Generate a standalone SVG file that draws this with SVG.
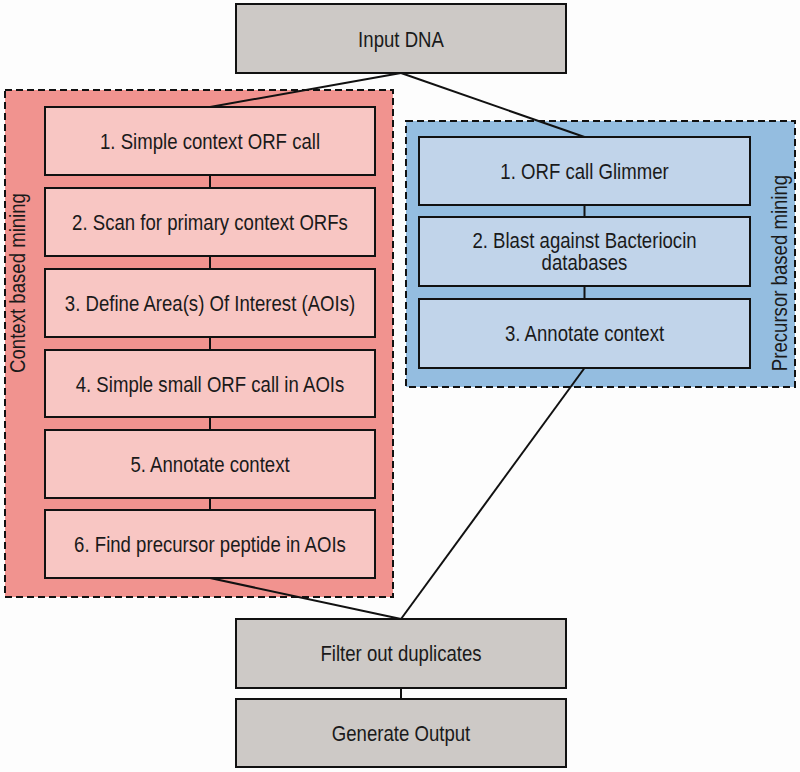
<svg xmlns="http://www.w3.org/2000/svg" width="800" height="772" viewBox="0 0 800 772">
<style>
text{font-family:"Liberation Sans",Arial,sans-serif;font-size:21.5px;fill:#1a1a1a;text-anchor:middle}
.box{stroke:#111;stroke-width:2}
.gray{fill:#cdc9c6}
.pink{fill:#f8c6c3}
.blue{fill:#c1d4ea}
.panel{stroke:#111;stroke-width:2;stroke-dasharray:7 4}
.ln{stroke:#111;stroke-width:2;fill:none}
</style>
<rect width="800" height="772" fill="#fdfdfd"/>
<g id="context-panel">
<rect class="panel" x="5" y="90" width="388" height="507" fill="#f1938f"/>
<text transform="translate(24.5,283) rotate(-90) scale(0.865,1)">Context based mining</text>
</g>
<g id="precursor-panel">
<rect class="panel" x="406" y="121" width="389" height="266" fill="#94bde0"/>
<text transform="translate(786.5,273) rotate(-90) scale(0.865,1)">Precursor based mining</text>
</g>
<g id="connectors">
<line class="ln" x1="401" y1="73" x2="210" y2="107"/>
<line class="ln" x1="401" y1="73" x2="584.5" y2="137"/>
<line class="ln" x1="210" y1="175" x2="210" y2="188"/>
<line class="ln" x1="210" y1="256" x2="210" y2="269"/>
<line class="ln" x1="210" y1="337" x2="210" y2="350"/>
<line class="ln" x1="210" y1="417" x2="210" y2="430"/>
<line class="ln" x1="210" y1="498" x2="210" y2="510"/>
<line class="ln" x1="584.5" y1="205" x2="584.5" y2="217"/>
<line class="ln" x1="584.5" y1="286" x2="584.5" y2="299"/>
<line class="ln" x1="210" y1="578" x2="401" y2="619"/>
<line class="ln" x1="584.5" y1="368" x2="401" y2="619"/>
<line class="ln" x1="401" y1="688" x2="401" y2="699"/>
</g>
<g id="input-dna">
<rect class="box gray" x="236" y="4" width="330" height="69"/>
<text transform="matrix(0.865 0 0 1 401 46.5)">Input DNA</text>
</g>
<g id="c1">
<rect class="box pink" x="45" y="107" width="330" height="68"/>
<text transform="matrix(0.865 0 0 1 210 149)">1. Simple context ORF call</text>
</g>
<g id="c2">
<rect class="box pink" x="45" y="188" width="330" height="68"/>
<text transform="matrix(0.865 0 0 1 210 230)">2. Scan for primary context ORFs</text>
</g>
<g id="c3">
<rect class="box pink" x="45" y="269" width="330" height="68"/>
<text transform="matrix(0.865 0 0 1 210 311)">3. Define Area(s) Of Interest (AOIs)</text>
</g>
<g id="c4">
<rect class="box pink" x="45" y="350" width="330" height="67"/>
<text transform="matrix(0.865 0 0 1 210 391.5)">4. Simple small ORF call in AOIs</text>
</g>
<g id="c5">
<rect class="box pink" x="45" y="430" width="330" height="68"/>
<text transform="matrix(0.865 0 0 1 210 472)">5. Annotate context</text>
</g>
<g id="c6">
<rect class="box pink" x="45" y="510" width="330" height="68"/>
<text transform="matrix(0.865 0 0 1 210 552)">6. Find precursor peptide in AOIs</text>
</g>
<g id="p1">
<rect class="box blue" x="419" y="137" width="331" height="68"/>
<text transform="matrix(0.865 0 0 1 584.5 179)">1. ORF call Glimmer</text>
</g>
<g id="p2">
<rect class="box blue" x="419" y="217" width="331" height="69"/>
<text transform="matrix(0.865 0 0 1 584.5 247.7)">2. Blast against Bacteriocin</text>
<text transform="matrix(0.865 0 0 1 584.5 270.4)">databases</text>
</g>
<g id="p3">
<rect class="box blue" x="419" y="299" width="331" height="69"/>
<text transform="matrix(0.865 0 0 1 584.5 341)">3. Annotate context</text>
</g>
<g id="filter">
<rect class="box gray" x="236" y="619" width="330" height="69"/>
<text transform="matrix(0.865 0 0 1 401 661)">Filter out duplicates</text>
</g>
<g id="output">
<rect class="box gray" x="236" y="699" width="330" height="68"/>
<text transform="matrix(0.865 0 0 1 401 741)">Generate Output</text>
</g>
</svg>
